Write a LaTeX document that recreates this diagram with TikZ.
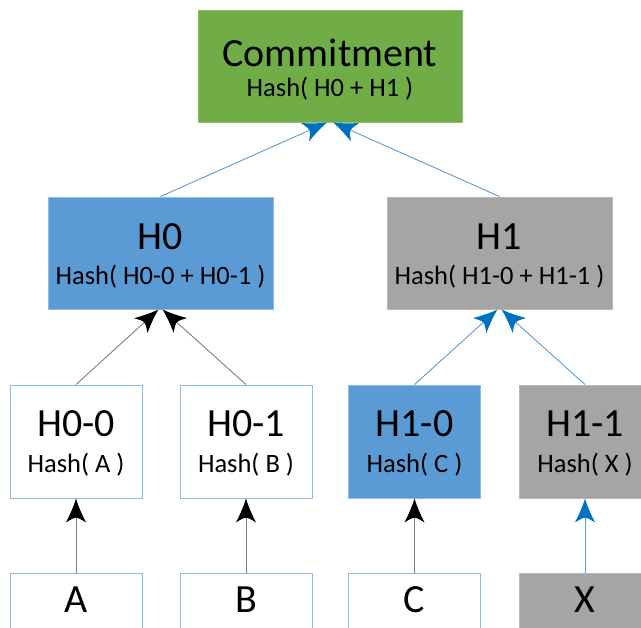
\documentclass[tikz,border=0pt]{standalone}
\usepackage{fontspec}
\setmainfont{Carlito}
\usetikzlibrary{calc,arrows.meta}
\definecolor{cgreen}{HTML}{70AD47}
\definecolor{cgreenb}{HTML}{8CC16A}
\definecolor{cblue}{HTML}{5B9BD5}
\definecolor{cblueb}{HTML}{8FBCE6}
\definecolor{cgray}{HTML}{A5A5A5}
\definecolor{cgrayb}{HTML}{B8B8B8}
\definecolor{cline}{HTML}{7F7F7F}
\definecolor{cdark}{HTML}{0070C0}
\pgfdeclarearrow{
  name = Vis,
  defaults = { length = 23pt, width = 18pt },
  parameters = { \the\pgfarrowlength,\the\pgfarrowwidth },
  setup code = {
    \pgfarrowssettipend{0pt}
    \pgfarrowssetlineend{-0.7\pgfarrowlength}
    \pgfarrowssetvisualbackend{-\pgfarrowlength}
    \pgfarrowssetbackend{-\pgfarrowlength}
    \pgfarrowshullpoint{0pt}{0pt}
    \pgfarrowsupperhullpoint{-\pgfarrowlength}{0.5\pgfarrowwidth}
    \pgfarrowssavethe\pgfarrowlength
    \pgfarrowssavethe\pgfarrowwidth
  },
  drawing code = {
    \pgfpathmoveto{\pgfqpoint{0pt}{0pt}}
    \pgfpathcurveto{\pgfqpoint{-0.35\pgfarrowlength}{0.12\pgfarrowwidth}}{\pgfqpoint{-0.7\pgfarrowlength}{0.32\pgfarrowwidth}}{\pgfqpoint{-\pgfarrowlength}{0.5\pgfarrowwidth}}
    \pgfpathcurveto{\pgfqpoint{-0.9\pgfarrowlength}{0.3\pgfarrowwidth}}{\pgfqpoint{-0.8\pgfarrowlength}{0.12\pgfarrowwidth}}{\pgfqpoint{-0.8\pgfarrowlength}{0pt}}
    \pgfpathcurveto{\pgfqpoint{-0.8\pgfarrowlength}{-0.12\pgfarrowwidth}}{\pgfqpoint{-0.9\pgfarrowlength}{-0.3\pgfarrowwidth}}{\pgfqpoint{-\pgfarrowlength}{-0.5\pgfarrowwidth}}
    \pgfpathcurveto{\pgfqpoint{-0.7\pgfarrowlength}{-0.32\pgfarrowwidth}}{\pgfqpoint{-0.35\pgfarrowlength}{-0.12\pgfarrowwidth}}{\pgfqpoint{0pt}{0pt}}
    \pgfpathclose
    \pgfusepathqfill
  }
}
\tikzset{
  box/.style={rectangle, inner sep=0pt, line width=0.9pt},
  bigbox/.style={box, minimum width=225pt, minimum height=112pt},
  smallbox/.style={box, minimum width=132pt, minimum height=113pt},
  greenbox/.style={fill=cgreen, draw=cgreenb},
  bluebox/.style={fill=cblue, draw=cblueb},
  graybox/.style={fill=cgray, draw=cgrayb},
  whitebox/.style={fill=white, draw=cblueb},
  ttl/.style={anchor=base, inner sep=0pt, font=\fontsize{40}{40}\selectfont},
  sub/.style={anchor=base, inner sep=0pt, font=\fontsize{26.5}{28}\selectfont},
  blackedge/.style={draw=cline, line width=0.9pt, -{Vis[color=black,length=24pt,width=20pt]}},
  blueedge/.style={draw=cblue, line width=0.9pt, -{Vis[color=cdark,length=24pt,width=20pt]}},
}
\begin{document}
\begin{tikzpicture}[x=1pt,y=-1pt]
\useasboundingbox (0,0) rectangle (641,628);
\clip (0,0) rectangle (641,628);
% boxes
\node[box, greenbox, minimum width=264pt, minimum height=112pt] (commit) at (330,66) {};
\node[bigbox, bluebox] (h0) at (160.5,253) {};
\node[bigbox, graybox] (h1) at (499.5,253) {};
\node[smallbox, whitebox] (h00) at (76,441.5) {};
\node[smallbox, whitebox] (h01) at (246,441.5) {};
\node[smallbox, bluebox] (h10) at (414.5,441.5) {};
\node[smallbox, graybox] (h11) at (585,441.5) {};
\node[smallbox, whitebox] (a) at (76,629.5) {};
\node[smallbox, whitebox] (b) at (246,629.5) {};
\node[smallbox, whitebox] (c) at (414.5,629.5) {};
\node[smallbox, graybox] (x) at (585,629.5) {};
% texts
\node[ttl] (tcommit) at ($(commit.north)+(0,57)$) {Commitment};
\node[sub] (scommit) at ($(commit.north)+(0,87)$) {Hash( H0 + H1 )};
\node[ttl] (th0) at ($(h0.north)+(0,53)$) {H0};
\node[sub] (sh0) at ($(h0.north)+(0,88)$) {Hash( H0-0 + H0-1 )};
\node[ttl] (th1) at ($(h1.north)+(0,53)$) {H1};
\node[sub] (sh1) at ($(h1.north)+(0,88)$) {Hash( H1-0 + H1-1 )};
\node[ttl] (th00) at ($(h00.north)+(0,52)$) {H0-0};
\node[sub] (sh00) at ($(h00.north)+(0,88)$) {Hash( A )};
\node[ttl] (th01) at ($(h01.north)+(0,52)$) {H0-1};
\node[sub] (sh01) at ($(h01.north)+(0,88)$) {Hash( B )};
\node[ttl] (th10) at ($(h10.north)+(0,52)$) {H1-0};
\node[sub] (sh10) at ($(h10.north)+(0,88)$) {Hash( C )};
\node[ttl] (th11) at ($(h11.north)+(0,52)$) {H1-1};
\node[sub] (sh11) at ($(h11.north)+(0,88)$) {Hash( X )};
\node[ttl] (ta) at ($(a.north)+(0,40)$) {A};
\node[ttl] (tb) at ($(b.north)+(0,40)$) {B};
\node[ttl] (tc) at ($(c.north)+(0,40)$) {C};
\node[ttl] (tx) at ($(x.north)+(0,40)$) {X};
% connectors
\draw[blueedge] (h0.north) -- ($(commit.south)+(-3,0)$);
\draw[blueedge] (h1.north) -- ($(commit.south)+(3,0)$);
\draw[blackedge] (h00.north) -- ($(h0.south)+(-2,0)$);
\draw[blackedge] (h01.north) -- ($(h0.south)+(2,0)$);
\draw[blueedge] (h10.north) -- ($(h1.south)+(-2,0)$);
\draw[blueedge] (h11.north) -- ($(h1.south)+(2,0)$);
\draw[blackedge] (a.north) -- (h00.south);
\draw[blackedge] (b.north) -- (h01.south);
\draw[blackedge] (c.north) -- (h10.south);
\draw[blueedge] (x.north) -- (h11.south);
\end{tikzpicture}
\end{document}
